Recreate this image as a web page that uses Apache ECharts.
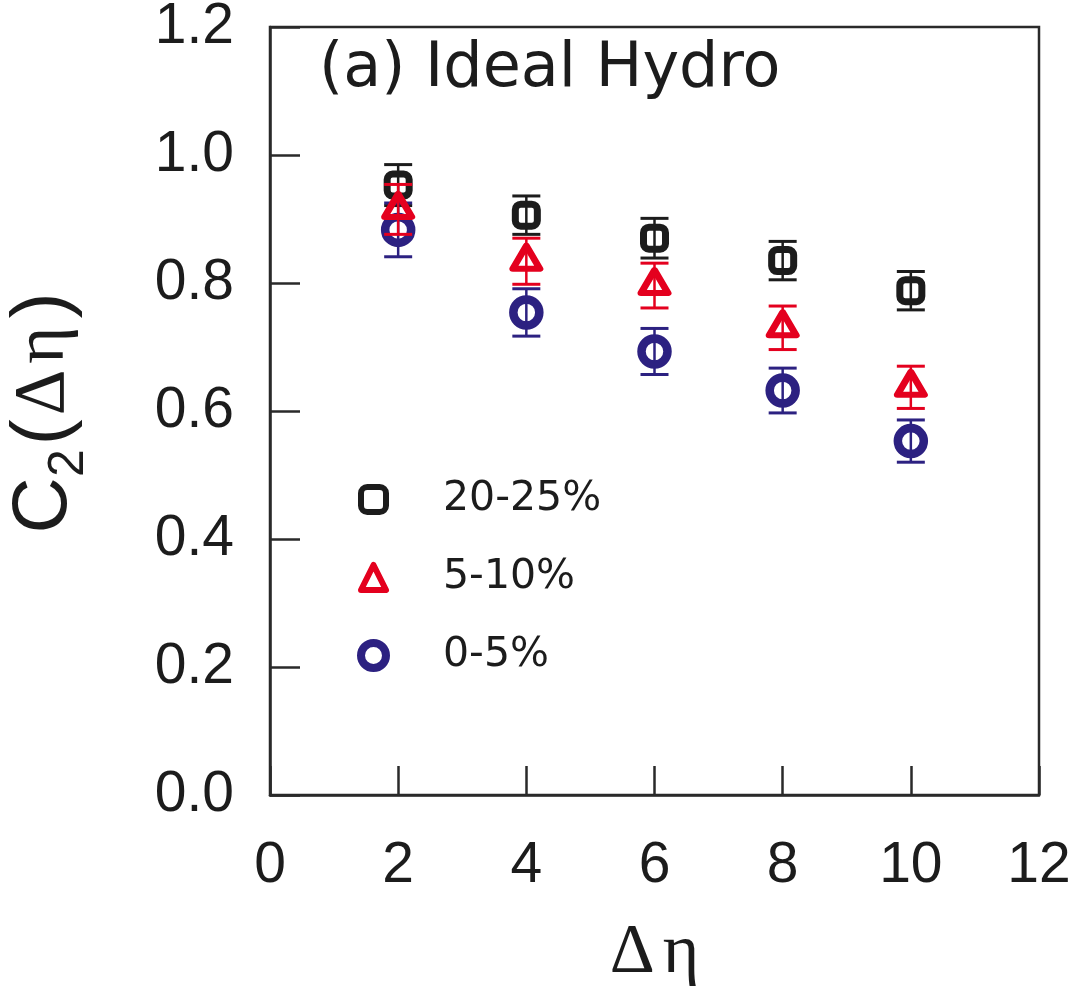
<!DOCTYPE html>
<html>
<head>
<meta charset="utf-8">
<script src="https://cdn.jsdelivr.net/npm/echarts@6/dist/echarts.min.js"></script>
<style>
  html, body { margin: 0; padding: 0; background: #ffffff; }
  #chart { width: 1071px; height: 986px; }
</style>
</head>
<body>
<div id="chart"></div>
<script>
// Pseudorapidity gap values (x positions of the points)
const deltaEta = [2, 4, 6, 8, 10];

// Centrality classes, in legend order
const classNames = ['20-25%', '5-10%', '0-5%'];

// C2(Δη) for 20-25% and its uncertainty
const c2Peripheral = [0.953, 0.906, 0.870, 0.835, 0.788];
const c2PeripheralErr = [0.032, 0.030, 0.031, 0.030, 0.030];

// C2(Δη) for 5-10% and its uncertainty
const c2MidCentral = [0.915, 0.834, 0.796, 0.730, 0.637];
const c2MidCentralErr = [0.039, 0.036, 0.035, 0.034, 0.033];

// C2(Δη) for 0-5% and its uncertainty
const c2Central = [0.883, 0.754, 0.693, 0.632, 0.553];
const c2CentralErr = [0.042, 0.037, 0.036, 0.035, 0.033];

// Axis ticks
const xTicks = [0, 2, 4, 6, 8, 10, 12];
const yTicks = ['0.0', '0.2', '0.4', '0.6', '0.8', '1.0', '1.2'];

const INK = '#1c1c1c';
const RED = '#e4001e';
const NAVY = '#2c2181';
const SANS = 'Liberation Sans';
const WIDE = 'DejaVu Sans';
const SERIF = 'Liberation Serif';

function points(values) {
  return deltaEta.map((x, i) => [x, values[i]]);
}
function withErr(values, errs) {
  return deltaEta.map((x, i) => [x, values[i], errs[i]]);
}

// Vertical error bar with flat caps
function errorBar(color) {
  return function (params, api) {
    const x = api.value(0), y = api.value(1), e = api.value(2);
    const hi = api.coord([x, y + e]);
    const lo = api.coord([x, y - e]);
    const hw = 14;
    return {
      type: 'group',
      children: [
        { type: 'line', shape: { x1: hi[0], y1: hi[1], x2: lo[0], y2: lo[1] },
          style: { stroke: color, lineWidth: 2.5 } },
        { type: 'line', shape: { x1: hi[0] - hw, y1: hi[1], x2: hi[0] + hw, y2: hi[1] },
          style: { stroke: color, lineWidth: 3 } },
        { type: 'line', shape: { x1: lo[0] - hw, y1: lo[1], x2: lo[0] + hw, y2: lo[1] },
          style: { stroke: color, lineWidth: 3 } }
      ]
    };
  };
}

const sets = [
  { name: classNames[0], vals: c2Peripheral, errs: c2PeripheralErr, color: INK,
    symbol: 'roundRect', size: 22, border: 7, offset: [0, 0], z: 2 },
  { name: classNames[1], vals: c2MidCentral, errs: c2MidCentralErr, color: RED,
    symbol: 'triangle', size: [27, 23], border: 6.5, offset: [0, -4], z: 4 },
  { name: classNames[2], vals: c2Central, errs: c2CentralErr, color: NAVY,
    symbol: 'circle', size: 26, border: 8.5, offset: [0, 0], z: 3 }
];

const series = [];
sets.forEach(s => {
  series.push({
    name: s.name,
    type: 'scatter',
    data: points(s.vals),
    symbol: s.symbol,
    symbolSize: s.size,
    symbolOffset: s.offset,
    z: s.z + 0.5,
    itemStyle: { color: 'rgba(0,0,0,0)', borderColor: s.color, borderWidth: s.border, borderJoin: 'round', opacity: 1 },
    emphasis: { disabled: true },
    animation: false
  });
});
sets.forEach(s => {
  series.push({
    name: s.name + ' err',
    type: 'custom',
    data: withErr(s.vals, s.errs),
    encode: { x: 0, y: 1 },
    renderItem: errorBar(s.color),
    z: s.z,
    silent: true,
    animation: false
  });
});

const option = {
  backgroundColor: '#ffffff',
  animation: false,
  title: {
    text: '(a) Ideal Hydro',
    left: 314,
    top: 34,
    textStyle: { fontFamily: WIDE, fontSize: 62, fontWeight: 'normal', color: INK }
  },
  legend: {
    orient: 'vertical',
    left: 352,
    top: 474,
    itemWidth: 25,
    itemHeight: 25,
    itemGap: 37,
    selectedMode: false,
    textStyle: { fontFamily: WIDE, fontSize: 41, color: INK, padding: [0, 0, 0, 52] },
    data: [
      { name: classNames[0], itemStyle: { borderWidth: 6 } },
      { name: classNames[1], itemStyle: { borderWidth: 6 } },
      { name: classNames[2], itemStyle: { borderWidth: 8 } }
    ]
  },
  grid: {
    left: 270, top: 27, width: 769, height: 768,
    containLabel: false,
    outerBoundsMode: 'none',
    show: true, borderColor: '#2a2a2a', borderWidth: 2.5, backgroundColor: 'transparent'
  },
  xAxis: {
    type: 'value',
    min: xTicks[0], max: xTicks[xTicks.length - 1], interval: 2,
    axisLine: { show: true, lineStyle: { color: '#2a2a2a', width: 2.5 } },
    axisTick: { show: true, inside: true, length: 29, lineStyle: { color: '#2a2a2a', width: 2.5 } },
    splitLine: { show: false },
    axisLabel: { margin: 43, fontFamily: SANS, fontSize: 57, color: INK,
      formatter: v => String(v) },
    name: '{d|Δ}{e|η}',
    nameLocation: 'middle',
    nameGap: 124,
    nameTextStyle: {
      rich: {
        d: { fontFamily: SERIF, fontSize: 70, color: INK },
        e: { fontFamily: SERIF, fontSize: 70, color: INK, padding: [0, 0, 0, 8] }
      }
    }
  },
  yAxis: {
    type: 'value',
    min: 0, max: 1.2, interval: 0.2,
    axisLine: { show: true, lineStyle: { color: '#2a2a2a', width: 2.5 } },
    axisTick: { show: true, inside: true, length: 30, lineStyle: { color: '#2a2a2a', width: 2.5 } },
    splitLine: { show: false },
    axisLabel: { margin: 36, fontFamily: SANS, fontSize: 57, color: INK,
      formatter: v => yTicks[Math.round(v / 0.2)] },
    name: '{c|C}{s|2}{p|(}{g|Δ}{h|η}{p|)}',
    nameLocation: 'middle',
    nameRotate: 90,
    nameGap: 176,
    nameTextStyle: {
      rich: {
        c: { fontFamily: SANS, fontSize: 78, lineHeight: 100, color: INK },
        s: { fontFamily: SANS, fontSize: 50, lineHeight: 18, verticalAlign: 'bottom', color: INK },
        p: { fontFamily: SANS, fontSize: 78, lineHeight: 100, color: INK, padding: [0, 4, 0, 4] },
        g: { fontFamily: SERIF, fontSize: 71, lineHeight: 100, color: INK, padding: [0, 6, 0, 0] },
        h: { fontFamily: SERIF, fontSize: 71, lineHeight: 100, color: INK, padding: [0, 4, 0, 0] }
      }
    }
  },
  series: series
};

const chart = echarts.init(document.getElementById('chart'), null, { renderer: 'canvas' });
chart.setOption(option);
</script>
</body>
</html>
